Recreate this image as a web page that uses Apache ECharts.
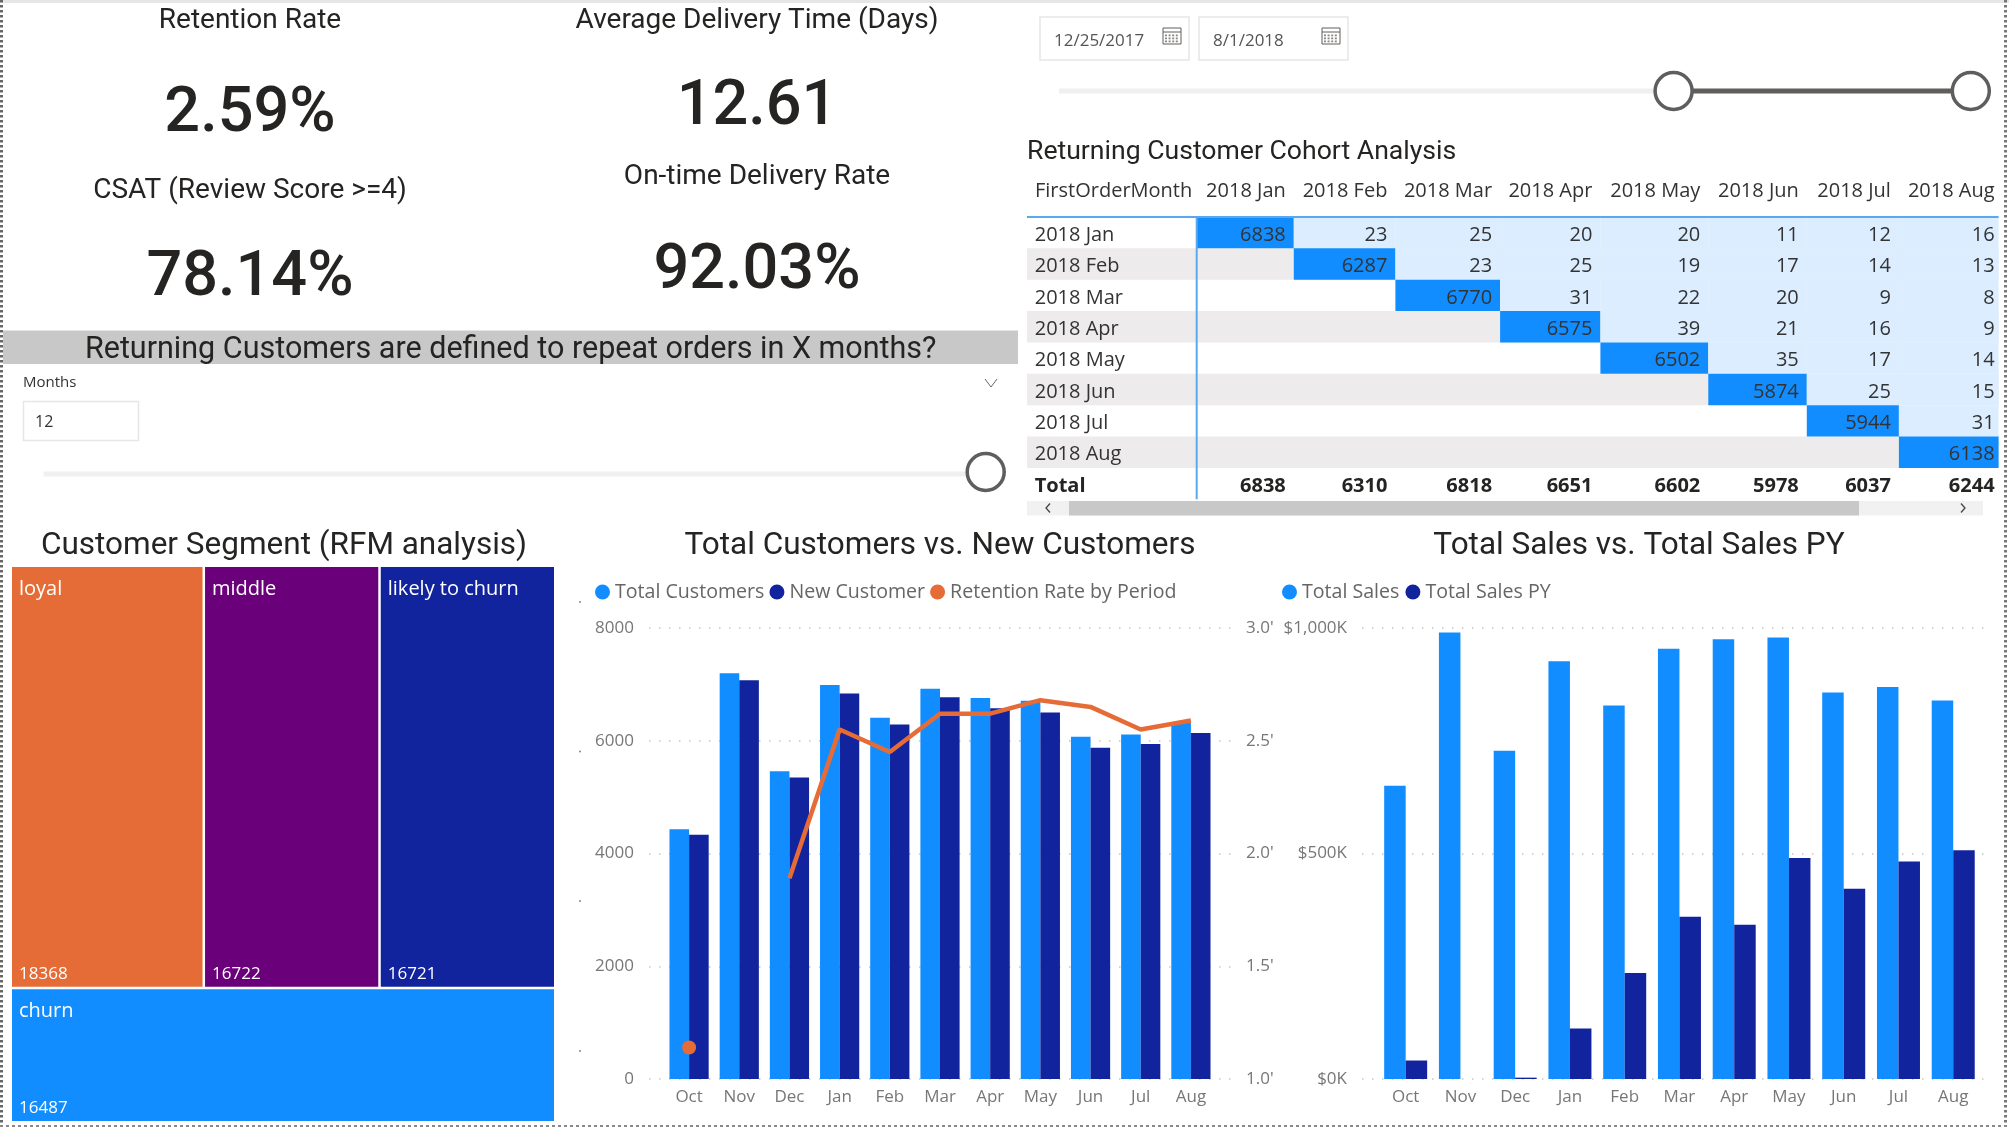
<!DOCTYPE html>
<html><head><meta charset="utf-8">
<style>html,body{margin:0;padding:0;background:#fff}#c{width:2009px;height:1127px}</style>
<script src="https://cdn.jsdelivr.net/npm/echarts@6/dist/echarts.min.js"></script>
</head><body><div id="c"></div>
<script>
// ---------- data ----------
const months = ['Oct','Nov','Dec','Jan','Feb','Mar','Apr','May','Jun','Jul','Aug'];
const totalCustomers = [4429,7197,5459,6991,6407,6922,6757,6709,6070,6112,6318];
const newCustomers = [4333,7073,5349,6838,6287,6770,6575,6502,5874,5944,6138];
const retentionRate = [1.14,null,1.89,2.55,2.45,2.62,2.62,2.68,2.65,2.55,2.59];
const totalSales = [650,990,728,926,828,954,975,979,857,869,839];
const totalSalesPY = [41,0,3,112,235,360,342,490,422,482,507];
const segmentNames = ['loyal','middle','likely to churn','churn'];
const segmentValues = [18368,16722,16721,16487];
const kpiTitles = ['Retention Rate','Average Delivery Time (Days)','CSAT (Review Score >=4)','On-time Delivery Rate'];
const kpiValues = ['2.59%','12.61','78.14%','92.03%'];
const cohortCols = ['2018 Jan','2018 Feb','2018 Mar','2018 Apr','2018 May','2018 Jun','2018 Jul','2018 Aug'];
const cohortRows = ['2018 Jan','2018 Feb','2018 Mar','2018 Apr','2018 May','2018 Jun','2018 Jul','2018 Aug','Total'];
const cohort = [
 [6838,23,25,20,20,11,12,16],
 [null,6287,23,25,19,17,14,13],
 [null,null,6770,31,22,20,9,8],
 [null,null,null,6575,39,21,16,9],
 [null,null,null,null,6502,35,17,14],
 [null,null,null,null,null,5874,25,15],
 [null,null,null,null,null,null,5944,31],
 [null,null,null,null,null,null,null,6138]
];
const cohortTotals = [6838,6310,6818,6651,6602,5978,6037,6244];
const dateFrom = '12/25/2017', dateTo = '8/1/2018', monthsValue = '12';

// ---------- style ----------
const BLUE='#118DFF', NAVY='#12239E', ORANGE='#E66C37', PURPLE='#6B007B';
const UI='"Open Sans",sans-serif', HEAD='Roboto,sans-serif';
const GREY='#777777', DOT=[1.5,8.5];
const colEdges=[1196.7,1293.8,1395.4,1500.1,1600.4,1708.3,1806.8,1898.9,1998.6];
const gr=[];
const txt=(x,y,text,size,o={})=>gr.push({type:'text',x,y:y+size*0.08,z:o.z||5,style:{text,fontSize:size,fontFamily:o.f||HEAD,fontWeight:o.w||'normal',
  fill:o.c||'#252423',align:o.a||'center',verticalAlign:'middle'}});
const rect=(x,y,w,h,fill,o={})=>gr.push({type:'rect',z:o.z||1,shape:{x,y,width:w,height:h},style:{fill,stroke:o.s||null,lineWidth:o.lw||0,lineDash:o.d||null}});
const line=(x1,y1,x2,y2,c,w,d,z)=>gr.push({type:'line',z:z||3,shape:{x1,y1,x2,y2},style:{stroke:c,lineWidth:w,lineDash:d||null}});
const circ=(x,y,r,fill,s,lw)=>gr.push({type:'circle',z:4,shape:{cx:x,cy:y,r},style:{fill,stroke:s||null,lineWidth:lw||0}});
const poly=(pts,c,w)=>gr.push({type:'polyline',z:4,shape:{points:pts},style:{stroke:c,lineWidth:w,fill:null}});

// frame
rect(0,0,2009,3,'#E6E6E6');
line(1.5,0,1.5,1127,'#666',3,[2.5,2.5]);
line(2005.5,0,2005.5,1127,'#777',3,[2.5,2.5]);
line(0,1126,2009,1126,'#888',2,[3,3]);

// KPI
const kT=[[250,19],[757,19],[250,189],[757,174.5]], kV=[[250,110.5],[757,103],[250,274.5],[757,267.5]];
kpiTitles.forEach((t,i)=>txt(kT[i][0],kT[i][1],t,28));
kpiValues.forEach((t,i)=>txt(kV[i][0],kV[i][1],t,63,{c:'#252423',w:500}));

// banner and months slicer
rect(3,330.5,1015,33.5,'#C8C8C8');
txt(510.7,348,'Returning Customers are defined to repeat orders in X months?',30.5);
txt(23,381.5,'Months',15,{a:'left',f:UI,c:'#333'});
poly([[985,379],[991,387],[997,379]],'#666',1);
rect(23.5,401.5,115,39,'#fff',{s:'#E6E6E6',lw:1.5});
txt(35,421.5,monthsValue,16,{a:'left',f:UI,c:'#333'});
rect(43.6,471.5,922,5,'#F0F0F0');
circ(985.7,472,18.5,'#fff','#605E5C',3.5);

// date slicer
[[1040,dateFrom],[1199,dateTo]].forEach(([x,t])=>{
  rect(x,17,149,43,'#fff',{s:'#E6E6E6',lw:1.5});
  txt(x+14,40,t,17,{a:'left',f:UI,c:'#555'});
  const ix=x+123,iy=28;
  rect(ix,iy,18,16,'#fff',{s:'#605E5C',lw:1,z:3});
  line(ix,iy+4,ix+18,iy+4,'#605E5C',1);
  for(let r=0;r<3;r++)for(let k=0;k<4;k++)rect(ix+2+k*3.6,iy+6.5+r*3,2,1.8,'#8a8886',{z:4});
});
rect(1059,88.5,614,5,'#F0F0F0');
rect(1673,88.5,297,5,'#605E5C',{z:2});
circ(1673.6,91,18.5,'#fff','#605E5C',3.5);
circ(1970.8,91,18.5,'#fff','#605E5C',3.5);

// table decoration
txt(1027,150.5,'Returning Customer Cohort Analysis',26.6,{a:'left'});
txt(1035,189.5,'FirstOrderMonth',20,{a:'left',f:UI,c:'#333'});
cohortCols.forEach((c,i)=>txt(colEdges[i+1]-(i==7?4:8),189.5,c,20,{a:'right',f:UI,c:'#333'}));
const rowH=282.3/9;
[1,3,5,7].forEach(r=>rect(1027,217+r*rowH,971.6,rowH,'#EDEBEB'));
line(1027,217,1998.6,217,'#5AA9EE',2,null,6);
line(colEdges[0],217,colEdges[0],499.3,'#5AA9EE',2,null,6);
rect(1027,501,956,14.5,'#F1F1F1');
rect(1069,501,790,14.5,'#C8C8C8',{z:2});
poly([[1050,503.5],[1046,508],[1050,512.5]],'#444',1.3);
poly([[1961,503.5],[1965,508],[1961,512.5]],'#444',1.3);

// section titles
txt(284,543.5,'Customer Segment (RFM analysis)',31.5);
txt(940,543.5,'Total Customers vs. New Customers',31.5);
txt(1639,543.5,'Total Sales vs. Total Sales PY',31.5);
[602,751.5,901,1051].forEach(y=>circ(580,y,1,'#888'));

// ---------- table cells ----------
const cells=[];
cohort.forEach((r,ri)=>r.forEach((v,ci)=>{if(v!==null)cells.push([ci,ri,v]);}));
cohortTotals.forEach((v,ci)=>cells.push([ci,8,v]));
const renderCell=(p,api)=>{
  const c=api.value(0),r=api.value(1),v=api.value(2);
  const h=api.size([0,1])[1];
  const a=api.coord([colEdges[c],r]),b=api.coord([colEdges[c+1],r]);
  const fill=r===8?'transparent':(c===r?BLUE:'#DBEDFF');
  return {type:'group',children:[
    {type:'rect',shape:{x:a[0],y:a[1]-h/2,width:b[0]-a[0],height:h},style:{fill}},
    {type:'text',x:b[0]-(c===7?4:8),y:a[1]+2.5,style:{text:String(v),fontSize:20,fontFamily:UI,fontWeight:r===8?'bold':'normal',
      fill:r===8?'#252423':'#333',align:'right',verticalAlign:'middle'}}
  ]};
};

const dotted={show:true,lineStyle:{color:'#C8C6C4',width:1.5,type:DOT}};
const hidden={show:false};
const catAxis=(gi)=>({type:'category',gridIndex:gi,data:months,axisLine:hidden,axisTick:hidden,splitLine:hidden,
  axisLabel:{color:GREY,fontSize:17,fontFamily:UI,margin:10,interval:0}});
const valLabel=(extra)=>Object.assign({color:GREY,fontSize:17,fontFamily:UI,margin:15},extra);

const option={
  animation:false,
  backgroundColor:'#fff',
  graphic:{elements:gr},
  legend:[
    {data:['Total Customers','New Customer','Retention Rate by Period'],left:595,top:582,itemWidth:15,itemHeight:15,itemGap:5,icon:'circle',
      textStyle:{color:'#666',fontSize:19.6,fontFamily:UI},padding:0},
    {data:['Total Sales','Total Sales PY'],left:1282,top:582,itemWidth:15,itemHeight:15,itemGap:6,icon:'circle',
      textStyle:{color:'#666',fontSize:19.6,fontFamily:UI},padding:0}
  ],
  grid:[
    {left:649,top:628,width:582,height:451},
    {left:664,top:628,width:552,height:451},
    {left:1362,top:628,width:629,height:451},
    {left:1378.3,top:628,width:602.3,height:451},
    {left:colEdges[0],top:217,width:colEdges[8]-colEdges[0],height:282.3}
  ],
  xAxis:[
    {type:'value',gridIndex:0,show:false,min:0,max:1},
    catAxis(1),
    {type:'value',gridIndex:2,show:false,min:0,max:1},
    catAxis(3),
    {type:'value',gridIndex:4,show:false,min:colEdges[0],max:colEdges[8]}
  ],
  yAxis:[
    {type:'value',gridIndex:0,min:0,max:8000,interval:2000,splitLine:dotted,axisLine:hidden,axisTick:hidden,
      axisLabel:valLabel({formatter:v=>String(v)})},
    {type:'value',gridIndex:0,position:'right',min:1,max:3,interval:0.5,splitLine:hidden,axisLine:hidden,axisTick:hidden,
      axisLabel:valLabel({formatter:v=>v.toFixed(1)+"'"})},
    {type:'value',gridIndex:1,min:0,max:8000,show:false},
    {type:'value',gridIndex:1,min:1,max:3,show:false},
    {type:'value',gridIndex:2,min:0,max:1000,interval:500,splitLine:dotted,axisLine:hidden,axisTick:hidden,
      axisLabel:valLabel({formatter:v=>v===1000?'$1,000K':'$'+v+'K'})},
    {type:'value',gridIndex:3,min:0,max:1000,show:false},
    {type:'category',gridIndex:4,inverse:true,z:6,data:cohortRows,axisTick:hidden,splitLine:hidden,axisLine:hidden,
      axisLabel:{interval:0,align:'left',margin:162,fontSize:20,fontFamily:UI,color:'#333',padding:[5,0,0,0],
        formatter:v=>v==='Total'?'{b|Total}':v,rich:{b:{fontWeight:'bold',fontSize:20,fontFamily:UI,color:'#252423'}}}}
  ],
  series:[
    {name:'Total Customers',type:'bar',xAxisIndex:1,yAxisIndex:2,data:totalCustomers,barWidth:19.6,barGap:'0%',itemStyle:{color:BLUE}},
    {name:'New Customer',type:'bar',xAxisIndex:1,yAxisIndex:2,data:newCustomers,barWidth:19.6,itemStyle:{color:NAVY}},
    {name:'Retention Rate by Period',type:'line',xAxisIndex:1,yAxisIndex:3,z:5,symbol:'circle',symbolSize:14,showSymbol:true,connectNulls:false,
      lineStyle:{color:ORANGE,width:4.5},itemStyle:{color:ORANGE},
      data:retentionRate.map((v,i)=>({value:v,symbolSize:i===0?14:0}))},
    {name:'Total Sales',type:'bar',xAxisIndex:3,yAxisIndex:5,data:totalSales,barWidth:21.5,barGap:'0%',itemStyle:{color:BLUE}},
    {name:'Total Sales PY',type:'bar',xAxisIndex:3,yAxisIndex:5,data:totalSalesPY,barWidth:21.5,itemStyle:{color:NAVY}},
    {type:'treemap',left:12,top:567,width:542,height:554,roam:false,nodeClick:false,breadcrumb:{show:false},squareRatio:2,
      silent:true,
      levels:[{itemStyle:{gapWidth:2.5,borderWidth:0}}],
      label:{show:true,position:'insideTopLeft',padding:[7,0,0,7],color:'#fff',fontFamily:UI,
        formatter:p=>`{n|${p.name}}\n{${p.name==='churn'?'s2':'s1'}| }\n{v|${p.value}}`,
        rich:{n:{fontSize:20,lineHeight:30,color:'#fff',fontFamily:UI},
              s1:{height:358,lineHeight:358,fontSize:1},s2:{height:70,lineHeight:70,fontSize:1},
              v:{fontSize:17,lineHeight:24,color:'#fff',fontFamily:UI}}},
      data:segmentNames.map((n,i)=>({name:n,value:segmentValues[i],itemStyle:{color:[ORANGE,PURPLE,NAVY,BLUE][i]}}))},
    {type:'custom',xAxisIndex:4,yAxisIndex:6,data:cells,renderItem:renderCell,encode:{x:0,y:1},clip:false}
  ]
};
echarts.init(document.getElementById('c'),null,{renderer:'canvas'}).setOption(option);
</script></body></html>
